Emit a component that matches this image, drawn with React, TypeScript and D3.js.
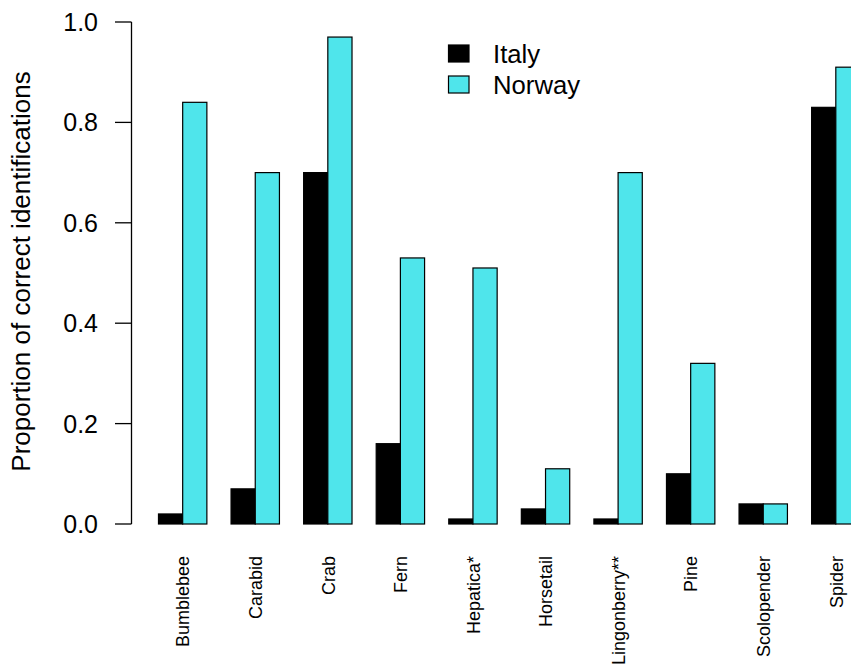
import React, { useEffect, useRef } from "react";
import * as d3 from "d3";

const categories = [
  "Bumblebee",
  "Carabid",
  "Crab",
  "Fern",
  "Hepatica*",
  "Horsetail",
  "Lingonberry**",
  "Pine",
  "Scolopender",
  "Spider",
];
const italy = [0.02, 0.07, 0.7, 0.16, 0.01, 0.03, 0.01, 0.1, 0.04, 0.83];
const norway = [0.84, 0.7, 0.97, 0.53, 0.51, 0.11, 0.7, 0.32, 0.04, 0.91];
const seriesNames = ["Italy", "Norway"];
const seriesColors = ["#000000", "#4fe5eb"];
const yTicks = [0, 0.2, 0.4, 0.6, 0.8, 1.0];

const W = 851;
const H = 665;

export default function App() {
  const ref = useRef<SVGSVGElement>(null);

  useEffect(() => {
    const svg = d3.select(ref.current);
    svg.selectAll("*").remove();

    // Grouped bars: each group = 2 bars + 1 bar-width gap before it
    const unit = 24.19;
    const x0 = 134.3;
    const nUnits = categories.length * 3;
    const x = d3.scaleLinear().domain([0, nUnits]).range([x0, x0 + nUnits * unit]);
    const y = d3.scaleLinear().domain([0, 1]).range([524, 22]);

    const series = [italy, norway];
    const g = svg.append("g");

    categories.forEach((cat, i) => {
      const start = 1 + 3 * i;
      series.forEach((vals, s) => {
        g.append("rect")
          .attr("x", x(start + s))
          .attr("y", y(vals[i]))
          .attr("width", x(start + s + 1) - x(start + s))
          .attr("height", y(0) - y(vals[i]))
          .attr("fill", seriesColors[s])
          .attr("stroke", "#000")
          .attr("stroke-width", 1.2);
      });
      // rotated category label
      const cx = x(start + 1) + 2;
      g.append("text")
        .attr("transform", `translate(${cx},556) rotate(-90)`)
        .attr("text-anchor", "end")
        .attr("dominant-baseline", "middle")
        .attr("font-family", "Liberation Sans, Arial, sans-serif")
        .attr("font-size", 18)
        .attr("fill", "#000")
        .text(cat);
    });

    // y axis
    const axisX = 131.5;
    const ax = svg.append("g").attr("stroke", "#000").attr("stroke-width", 1.3);
    ax.append("line")
      .attr("x1", axisX)
      .attr("x2", axisX)
      .attr("y1", y(1))
      .attr("y2", y(0));
    yTicks.forEach((t) => {
      ax.append("line")
        .attr("x1", axisX - 16.5)
        .attr("x2", axisX)
        .attr("y1", y(t))
        .attr("y2", y(t));
      svg
        .append("text")
        .attr("x", 98)
        .attr("y", y(t) + 9)
        .attr("text-anchor", "end")
        .attr("font-family", "Liberation Sans, Arial, sans-serif")
        .attr("font-size", 25)
        .attr("fill", "#000")
        .text(d3.format(".1f")(t));
    });

    // y axis title
    svg
      .append("text")
      .attr("transform", `translate(30,${(y(0) + y(1)) / 2 - 1.5}) rotate(-90)`)
      .attr("text-anchor", "middle")
      .attr("font-family", "Liberation Sans, Arial, sans-serif")
      .attr("font-size", 26)
      .attr("fill", "#000")
      .text("Proportion of correct identifications");

    // legend
    const legY = [63, 94];
    seriesNames.forEach((name, s) => {
      svg
        .append("rect")
        .attr("x", 448.5)
        .attr("y", legY[s] - 18)
        .attr("width", 20.5)
        .attr("height", 17)
        .attr("fill", seriesColors[s])
        .attr("stroke", "#000")
        .attr("stroke-width", 1.2);
      svg
        .append("text")
        .attr("x", 493)
        .attr("y", legY[s])
        .attr("font-family", "Liberation Sans, Arial, sans-serif")
        .attr("font-size", 25.7)
        .attr("fill", "#000")
        .text(name);
    });
  }, []);

  return (
    <svg
      ref={ref}
      width={W}
      height={H}
      style={{ position: "absolute", left: 0, top: 0, background: "#fff" }}
    />
  );
}
